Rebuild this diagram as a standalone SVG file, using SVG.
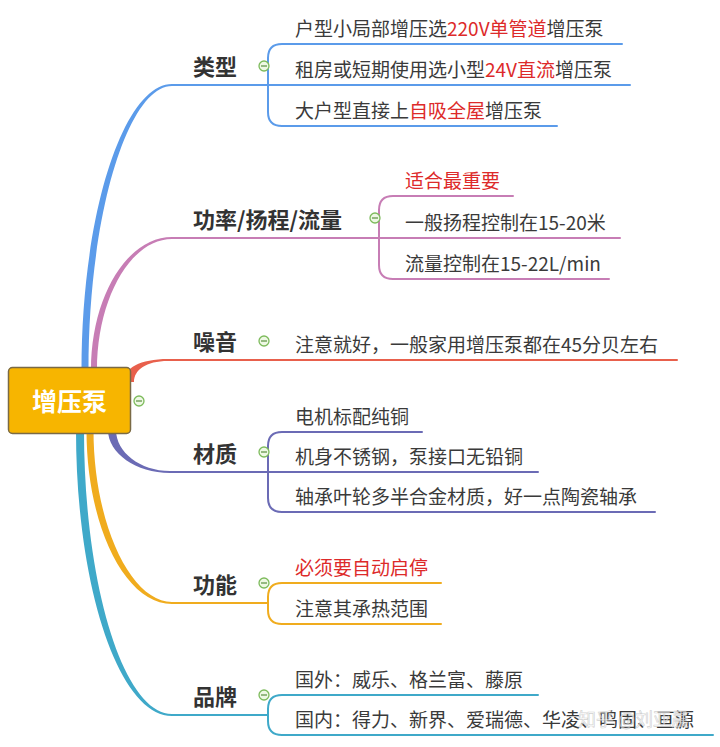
<svg xmlns="http://www.w3.org/2000/svg" width="720" height="747" viewBox="0 0 720 747">
<style>
.t{font-family:'Noto Sans CJK SC','Noto Sans',sans-serif;font-size:19px;fill:#3a3a3a}
.h{font-family:'Noto Sans CJK SC','Noto Sans',sans-serif;font-size:22px;font-weight:bold;fill:#333}
.r{fill:#dd2a2a}
.ln{fill:none;stroke-width:2;stroke-linecap:round}
.c circle{fill:#eef8e4;stroke:#7dbb5c;stroke-width:1.3}
.c line{stroke:#5a8f40;stroke-width:1.2}
</style>
<rect width="720" height="747" fill="#fff"/>
<g id="connectors">
  <path d="M81.5,370 C81.5,213 124,84 172,84 L172,86 C128,86 88.5,215 88.5,370 Z" fill="#5b9bea"/>
  <path d="M91,370 C91,297 127,237 172,237 L172,239 C131,239 97,298 97,370 Z" fill="#c77db5"/>
  <path d="M124,382 C124,368 140,359 168,359 L168,361 C146,361 134,370 134,382 Z" fill="#e8604c"/>
  <path d="M108,430 C108,453 136,473 170,473 L170,471 C140,471 116,452 116,430 Z" fill="#6b6bb5"/>
  <path d="M86.5,430 C86.5,526 125,604 172,604 L172,602 C131,602 93.5,524 93.5,430 Z" fill="#f0ac1e"/>
  <path d="M76,430 C76,587 119,716 172,716 L172,714 C124,714 84,586 84,430 Z" fill="#3fa9c9"/>
  <g stroke="#5b9bea" class="ln">
    <path d="M172,85 H268"/>
    <path d="M622,44 H282 Q268,44 268,58 V112 Q268,126 282,126 H557"/>
    <path d="M268,85 H630"/>
  </g>
  <g stroke="#c77db5" class="ln">
    <path d="M172,238 H379"/>
    <path d="M513,196 H393 Q379,196 379,210 V265 Q379,279 393,279 H609"/>
    <path d="M379,238 H620"/>
  </g>
  <g stroke="#e8604c" class="ln">
    <path d="M168,360 H677"/>
  </g>
  <g stroke="#6b6bb5" class="ln">
    <path d="M170,472 H268"/>
    <path d="M422,432 H282 Q268,432 268,446 V498 Q268,512 282,512 H655"/>
    <path d="M268,472 H538"/>
  </g>
  <g stroke="#f0ac1e" class="ln">
    <path d="M172,603 H268"/>
    <path d="M441,583 H282 Q268,583 268,597 V610 Q268,624 282,624 H441"/>
  </g>
  <g stroke="#3fa9c9" class="ln">
    <path d="M172,715 H268"/>
    <path d="M538,695 H282 Q268,695 268,709 V721 Q268,735 282,735 H713"/>
  </g>
</g>
<g id="root">
  <rect x="8.5" y="367.5" width="122" height="66" rx="4" fill="#f7b500" stroke="#7a6a45" stroke-width="1.5"/>
  <text x="69.5" y="411" text-anchor="middle" style="font-family:'Noto Sans CJK SC',sans-serif;font-size:25px;font-weight:bold;fill:#fff">增压泵</text>
  <g class="c"><circle cx="139" cy="401" r="5"/><line x1="136" y1="401" x2="142" y2="401"/></g>
</g>
<g id="topic-leixing">
  <text class="h" x="193" y="75">类型</text>
  <g class="c"><circle cx="264" cy="66" r="5"/><line x1="261" y1="66" x2="267" y2="66"/></g>
</g>
<g id="leixing-1"><text class="t" x="295" y="36">户型小局部增压选<tspan class="r">220V单管道</tspan>增压泵</text></g>
<g id="leixing-2"><text class="t" x="295" y="77">租房或短期使用选小型<tspan class="r">24V直流</tspan>增压泵</text></g>
<g id="leixing-3"><text class="t" x="295" y="118">大户型直接上<tspan class="r">自吸全屋</tspan>增压泵</text></g>

<g id="topic-gonglv">
  <text class="h" x="193" y="228">功率/扬程/流量</text>
  <g class="c"><circle cx="375" cy="218" r="5"/><line x1="372" y1="218" x2="378" y2="218"/></g>
</g>
<g id="gonglv-1"><text class="t r" x="405" y="188">适合最重要</text></g>
<g id="gonglv-2"><text class="t" x="405" y="230">一般扬程控制在15-20米</text></g>
<g id="gonglv-3"><text class="t" x="405" y="271">流量控制在15-22L/min</text></g>

<g id="topic-zaoyin">
  <text class="h" x="193" y="350">噪音</text>
  <g class="c"><circle cx="264" cy="341" r="5"/><line x1="261" y1="341" x2="267" y2="341"/></g>
</g>
<g id="zaoyin-1"><text class="t" x="295" y="352">注意就好，一般家用增压泵都在45分贝左右</text></g>

<g id="topic-caizhi">
  <text class="h" x="193" y="462">材质</text>
  <g class="c"><circle cx="264" cy="452" r="5"/><line x1="261" y1="452" x2="267" y2="452"/></g>
</g>
<g id="caizhi-1"><text class="t" x="295" y="424">电机标配纯铜</text></g>
<g id="caizhi-2"><text class="t" x="295" y="464">机身不锈钢，泵接口无铅铜</text></g>
<g id="caizhi-3"><text class="t" x="295" y="504">轴承叶轮多半合金材质，好一点陶瓷轴承</text></g>

<g id="topic-gongneng">
  <text class="h" x="193" y="593">功能</text>
  <g class="c"><circle cx="264" cy="583" r="5"/><line x1="261" y1="583" x2="267" y2="583"/></g>
</g>
<g id="gongneng-1"><text class="t r" x="295" y="575">必须要自动启停</text></g>
<g id="gongneng-2"><text class="t" x="295" y="616">注意其承热范围</text></g>

<g id="topic-pinpai">
  <text class="h" x="193" y="705">品牌</text>
  <g class="c"><circle cx="264" cy="695" r="5"/><line x1="261" y1="695" x2="267" y2="695"/></g>
</g>
<g id="pinpai-1"><text class="t" x="295" y="687">国外：威乐、格兰富、藤原</text></g>
<g id="pinpai-2"><text class="t" x="295" y="727">国内：得力、新界、爱瑞德、华凌、鸣固、亘源</text></g>
<text x="578" y="726" style="font-family:'Noto Sans CJK SC',sans-serif;font-size:18px;fill:#fff;fill-opacity:0.6;stroke:#999;stroke-opacity:0.45;stroke-width:0.7">知乎 @刘亚晨</text>
</svg>
